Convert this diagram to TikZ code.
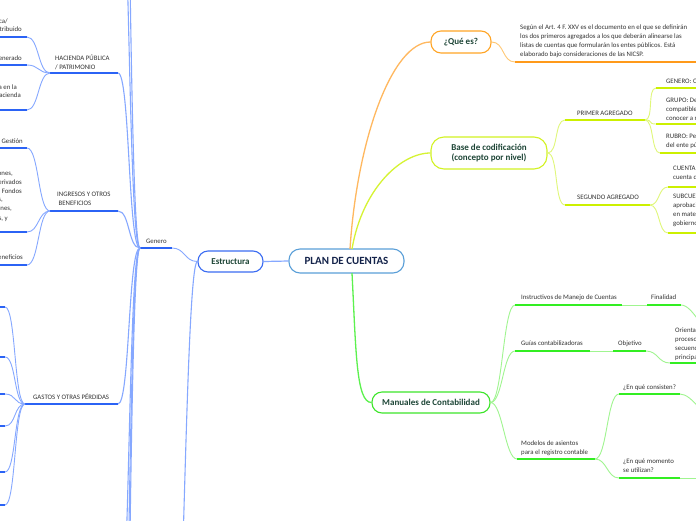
\documentclass[tikz,border=0pt]{standalone}
\usepackage{fontspec}
\setmainfont{Carlito}
\definecolor{bU}{HTML}{2B63F5}
\definecolor{bC}{HTML}{86A8FF}
\definecolor{oU}{HTML}{FF9A1A}
\definecolor{oC}{HTML}{FFC875}
\definecolor{lU}{HTML}{CCF000}
\definecolor{lC}{HTML}{E0F77A}
\definecolor{gU}{HTML}{33EE22}
\definecolor{gC}{HTML}{A0F590}
\definecolor{cenB}{HTML}{5A9FD8}
\definecolor{cNavy}{HTML}{14234A}
\definecolor{cDark}{HTML}{1D4536}
\definecolor{cTxt}{HTML}{333333}
\definecolor{estB}{HTML}{3B6CF2}
\definecolor{qB}{HTML}{FFA526}
\definecolor{baseB}{HTML}{D2F222}
\definecolor{manB}{HTML}{3DE52A}
\tikzset{
  central/.style={draw=cenB, line width=1.1pt, rounded corners=11pt, fill=white, minimum width=115pt, minimum height=24pt, inner sep=0pt, font=\fontsize{11}{13}\selectfont\bfseries, text=cNavy},
  topic/.style={line width=1.1pt, rounded corners=10pt, fill=white, inner sep=0pt, font=\fontsize{9}{10.5}\selectfont\bfseries, text=cDark, align=center},
  small/.style={inner sep=0pt, font=\fontsize{6.8}{9}\selectfont, text=cTxt, align=left},
  ul/.style={line width=1.8pt},
  cn/.style={line width=0.9pt},
}
\begin{document}
\begin{tikzpicture}[x=1pt,y=-1pt]
\useasboundingbox (0,0) rectangle (696,520);
\clip (0,0) rectangle (696,520);
\fill[white] (0,0) rectangle (696,520);

% ---------- main nodes ----------
\node[central] (plan) at (346.5,261) {PLAN DE CUENTAS};
\node[topic, draw=estB, minimum width=65pt, minimum height=21pt] (estr) at (230.5,261.5) {Estructura};
\node[topic, draw=qB, minimum width=60pt, minimum height=22pt] (que) at (461,42) {¿Qué es?};
\node[topic, draw=baseB, rounded corners=13pt, minimum width=116pt, minimum height=32pt] (base) at (489,153) {Base de codificación\\(concepto por nivel)};
\node[topic, draw=manB, minimum width=118pt, minimum height=21pt] (man) at (431,402.5) {Manuales de Contabilidad};

\coordinate (pTopA) at (350,249);
\coordinate (pTopB) at (352,249);
\coordinate (pBot) at (352,273);
\draw[cn, bC, line width=1.2pt] (estr.east) -- (plan.west);
\draw[cn, oU!70, line width=1.3pt] (pTopA) .. controls (357,140) and (392,42) .. (que.west);
\draw[cn, lU!80, line width=1.3pt] (pTopB) .. controls (362,190) and (400,153) .. (base.west);
\draw[cn, gU!80, line width=1.3pt] (pBot) .. controls (356,350) and (356,402.5) .. (man.west);

% ---------- Estructura branch ----------
\coordinate (genL) at (140,248);
\coordinate (genR) at (172,248);
\coordinate (estDown) at (166,820);
\draw[cn,bC] (estr.west) .. controls +(-13,0) and +(13,0) .. (genR);
\draw[cn,bC,line width=1.1pt] (estr.west) .. controls (184,262) and (183,820) .. (estDown);
\draw[ul,bU] (genL) -- (genR);
\node[small, anchor=base west] (genT) at (146,243) {Genero};

\coordinate (hacL) at (50,73);   \coordinate (hacR) at (118,73);
\coordinate (ingL) at (50,211);  \coordinate (ingR) at (118,211);
\coordinate (gasL) at (25,404);  \coordinate (gasR) at (118,404);
\coordinate (upA) at (118,-160); \coordinate (upB) at (118,-420);
\coordinate (dnA) at (118,640);  \coordinate (dnB) at (118,800); \coordinate (dnC) at (118,960);
\foreach \t in {hacR,ingR,gasR,upA,upB,dnA,dnB,dnC}
  \draw[cn,bC,line width=1.1pt] (genL) .. controls +(-12,0) and +(12,0) .. (\t);
\draw[ul,bU] (hacL) -- (hacR);
\draw[ul,bU] (ingL) -- (ingR);
\draw[ul,bU] (gasL) -- (gasR);
\node[small, anchor=north west] (hacT) at (55,54.8) {HACIENDA PÚBLICA\\/ PATRIMONIO};
\node[small, anchor=north west] (ingT) at (57,191.8) {INGRESOS Y OTROS\\\hspace*{1.5pt}BENEFICIOS};
\node[small, anchor=base west] (gasT) at (33,399.5) {GASTOS Y OTRAS PÉRDIDAS};

% Hacienda children
\coordinate (h1) at (27,37); \coordinate (h2) at (27,65); \coordinate (h3) at (27,110);
\foreach \t in {h1,h2,h3}{
  \draw[cn,bC] (hacL) .. controls +(-12,0) and +(12,0) .. (\t);
  \draw[ul,bU] (\t) -- ++(-40,0);
}
\node[small, anchor=base east] (h1a) at (8,23) {Hacienda Pública/};
\node[small, anchor=base east] (h1b) at (22,31.5) {Patrimonio Contribuido};
\node[small, anchor=base east] (h2a) at (22,60) {Hacienda Pública/Patrimonio Generado};
\node[small, anchor=base east] (h3a) at (17,89) {Exceso o Insuficiencia en la};
\node[small, anchor=base east] (h3b) at (21,97.5) {Actualización de la Hacienda};

% Ingresos children
\coordinate (i1) at (27,148); \coordinate (i2) at (27,232); \coordinate (i3) at (27,265);
\foreach \t in {i1,i2,i3}{
  \draw[cn,bC] (ingL) .. controls +(-12,0) and +(12,0) .. (\t);
  \draw[ul,bU] (\t) -- ++(-40,0);
}
\node[small, anchor=base east] (i1a) at (23,143) {Ingresos de Gestión};
\node[small, anchor=base east] (i2a) at (13,175.5) {Participaciones, Aportaciones,};
\node[small, anchor=base east] (i2b) at (22,184) {Convenios, Incentivos Derivados};
\node[small, anchor=base east] (i2c) at (22,193) {de la Colaboración Fiscal, Fondos};
\node[small, anchor=base east] (i2d) at (3,201.5) {Distintos de Aportaciones,};
\node[small, anchor=base east] (i2e) at (12,210.5) {Transferencias, Asignaciones,};
\node[small, anchor=base east] (i2f) at (8,220) {Subsidios y Subvenciones, y};
\node[small, anchor=base east] (i3a) at (23,259) {Otros Ingresos y Beneficios};

% Gastos children
\foreach \y [count=\k] in {307,357,394,426,472,505}{
  \coordinate (g\k) at (5,\y);
  \draw[cn,bC] (gasL) .. controls +(-11,0) and +(11,0) .. (g\k);
  \draw[ul,bU] (g\k) -- ++(-20,0);
}

% ---------- ¿Qué es? branch ----------
\coordinate (qdL) at (515,62); \coordinate (qdR) at (700,62);
\draw[cn,oC] (que.east) .. controls +(13,0) and +(-13,0) .. (qdL);
\draw[ul,oU] (qdL) -- (qdR);
\node[small, anchor=north west] (qdT) at (520,24.8) {Según el Art. 4 F. XXV es el documento en el que se definirán\\los dos primeros agregados a los que deberán alinearse las\\listas de cuentas que formularán los entes públicos. Está\\elaborado bajo consideraciones de las NICSP.};

% ---------- Base de codificación branch ----------
\coordinate (p1L) at (565,120); \coordinate (p1R) at (645,120);
\coordinate (p2L) at (565,205); \coordinate (p2R) at (650,205);
\draw[cn,lC] (base.east) .. controls +(11,0) and +(-11,0) .. (p1L);
\draw[cn,lC] (base.east) .. controls +(11,0) and +(-11,0) .. (p2L);
\draw[ul,lU] (p1L) -- (p1R);
\draw[ul,lU] (p2L) -- (p2R);
\node[small, anchor=base west] (p1T) at (577,115) {PRIMER AGREGADO};
\node[small, anchor=base west] (p2T) at (577,199.5) {SEGUNDO AGREGADO};

\coordinate (c1) at (656,88); \coordinate (c2) at (656,124); \coordinate (c3) at (660,153);
\foreach \t in {c1,c2,c3}{
  \draw[cn,lC] (p1R) .. controls +(9,0) and +(-9,0) .. (\t);
  \draw[ul,lU] (\t) -- ++(60,0);
}
\coordinate (d1) at (668,187); \coordinate (d2) at (668,233);
\foreach \t in {d1,d2}{
  \draw[cn,lC] (p2R) .. controls +(10,0) and +(-10,0) .. (\t);
  \draw[ul,lU] (\t) -- ++(60,0);
}
\node[small, anchor=base west] (c1T) at (666,83) {GENERO: Considera el universo de la clasificación.};
\node[small, anchor=north west] (c2T) at (666,97.8) {GRUPO: Determina el origen y aplicación de los recursos\\compatibles con los momentos contables, permitiendo\\conocer a nivel agregado la situación financiera.};
\node[small, anchor=north west] (c3T) at (666,133.8) {RUBRO: Permite la clasificación particular de las operaciones\\del ente público.};
\node[small, anchor=north west] (d1T) at (673,165.8) {CUENTA: Desagregación del rubro en cada\\cuenta de registro.};
\node[small, anchor=north west] (d2T) at (673,193.8) {SUBCUENTA: Podrá desagregarse, previa\\aprobación de la unidad administrativa competente\\en materia de contabilidad gubernamental de cada orden de\\gobierno.};

% ---------- Manuales branch ----------
\coordinate (m1L) at (515,305); \coordinate (m1R) at (622,305);
\coordinate (fL) at (647,305);  \coordinate (fR) at (681,305);
\coordinate (m2L) at (515,351); \coordinate (m2R) at (590,351);
\coordinate (oL) at (613,351);  \coordinate (oR) at (646,351);
\coordinate (orL) at (670,363); \coordinate (orR) at (700,363);
\coordinate (m3L) at (517,459); \coordinate (m3R) at (595,459);
\coordinate (kL) at (619,394);  \coordinate (kR) at (680,394);
\coordinate (wL) at (619,478);  \coordinate (wR) at (680,478);
\coordinate (fOff) at (714,345); \coordinate (kOff) at (714,428); \coordinate (wOff) at (704,478);

\foreach \t in {m1L,m2L,m3L}
  \draw[cn,gC] (man.east) .. controls +(12,0) and +(-12,0) .. (\t);
\draw[cn,gC] (m1R) -- (fL);
\draw[cn,gC] (m2R) -- (oL);
\draw[cn,gC] (oR) .. controls +(12,0) and +(-12,0) .. (orL);
\draw[cn,gC] (fR) .. controls +(12,0) and +(-8,-10) .. (fOff);
\draw[cn,gC] (m3R) .. controls +(12,0) and +(-12,0) .. (kL);
\draw[cn,gC] (m3R) .. controls +(12,0) and +(-12,0) .. (wL);
\draw[cn,gC] (kR) .. controls +(12,0) and +(-8,-10) .. (kOff);
\draw[cn,gC] (wR) -- (wOff);
\foreach \a/\b in {m1L/m1R,fL/fR,m2L/m2R,oL/oR,orL/orR,m3L/m3R,kL/kR,wL/wR}
  \draw[ul,gU] (\a) -- (\b);

\node[small, anchor=base west] (m1T) at (521,299) {Instructivos de Manejo de Cuentas};
\node[small, anchor=base west] (fT) at (651,299) {Finalidad};
\node[small, anchor=base west] (m2T) at (521,345) {Guías contabilizadoras};
\node[small, anchor=base west] (oT) at (618,345) {Objetivo};
\node[small, anchor=north west] (orT) at (675,327.8) {Orientar sobre los registros contables de los\\procesos administrativos, mostrando la\\secuencia de registro de las operaciones\\principales del ente público.};
\node[small, anchor=north west] (m3T) at (521,440.8) {Modelos de asientos\\para el registro contable};
\node[small, anchor=base west] (kT) at (623,389) {¿En qué consisten?};
\node[small, anchor=north west] (wT) at (623,458.8) {¿En qué momento\\se utilizan?};
\end{tikzpicture}
\end{document}
